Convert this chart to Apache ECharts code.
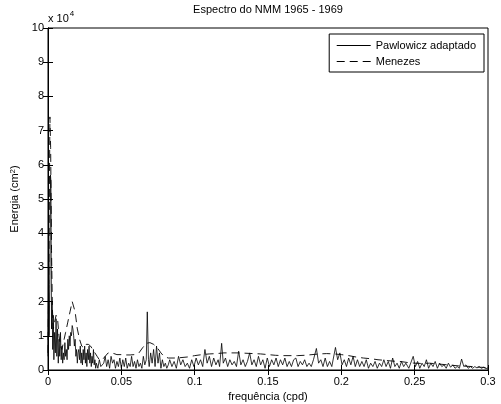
<!DOCTYPE html>
<html>
<head>
<meta charset="utf-8">
<script src="https://cdn.jsdelivr.net/npm/echarts@6/dist/echarts.min.js"></script>
<style>html,body{margin:0;padding:0;background:#fff}#c{width:501px;height:404px}</style>
</head>
<body>
<div id="c"></div>
<script>
// Values in units of 10^4 cm^2
const xTicks = [0, 0.05, 0.1, 0.15, 0.2, 0.25, 0.3];
const yTicks = [0, 1, 2, 3, 4, 5, 6, 7, 8, 9, 10];

const pawFreq = [
0.0000,0.0004,0.0008,0.0012,0.0017,0.0020,0.0024,0.0028,0.0032,0.0036,0.0040,0.0045,0.0050,0.0055,0.0060,0.0065,0.0070,0.0075,0.0080,0.0085,
0.0090,0.0095,0.0100,0.0105,0.0110,0.0115,0.0120,0.0125,0.0130,0.0135,0.0140,0.0145,0.0150,0.0155,0.0160,0.0165,0.0170,0.0175,0.0180,0.0185,
0.0190,0.0195,0.0200,0.0205,0.0210,0.0215,0.0220,0.0225,0.0230,0.0235,0.0240,0.0245,0.0250,0.0255,0.0260,0.0265,0.0270,0.0275,0.0280,0.0285,
0.0290,0.0295,0.0300,0.0305,0.0310,0.0315,0.0320,0.0325,0.0330,0.0340,0.0350,0.0360,0.0370,0.0380,0.0390,0.0400,0.0410,0.0420,0.0430,0.0440,
0.0450,0.0460,0.0470,0.0480,0.0490,0.0500,0.0510,0.0520,0.0530,0.0540,0.0550,0.0560,0.0570,0.0580,0.0590,0.0600,0.0610,0.0620,0.0630,0.0640,
0.0650,0.0660,0.0670,0.0677,0.0685,0.0690,0.0700,0.0710,0.0720,0.0730,0.0740,0.0750,0.0760,0.0770,0.0780,0.0790,0.0800,0.0810,0.0820,0.0830,
0.0845,0.0860,0.0875,0.0890,0.0905,0.0920,0.0935,0.0950,0.0965,0.0980,0.0995,0.1010,0.1025,0.1040,0.1055,0.1070,0.1085,0.1100,0.1115,0.1130,
0.1145,0.1160,0.1170,0.1184,0.1195,0.1210,0.1225,0.1240,0.1255,0.1270,0.1285,0.1300,0.1315,0.1330,0.1345,0.1360,0.1375,0.1390,0.1405,0.1420,
0.1435,0.1450,0.1465,0.1480,0.1495,0.1510,0.1525,0.1540,0.1555,0.1570,0.1585,0.1600,0.1615,0.1630,0.1645,0.1660,0.1675,0.1690,0.1705,0.1720,
0.1735,0.1750,0.1765,0.1780,0.1795,0.1810,0.1830,0.1845,0.1860,0.1875,0.1890,0.1905,0.1920,0.1935,0.1960,0.1975,0.1990,0.2005,0.2020,0.2035,
0.2050,0.2065,0.2080,0.2095,0.2110,0.2125,0.2140,0.2155,0.2170,0.2185,0.2200,0.2215,0.2230,0.2245,0.2260,0.2275,0.2290,0.2305,0.2320,0.2335,
0.2350,0.2365,0.2380,0.2395,0.2410,0.2425,0.2440,0.2460,0.2490,0.2505,0.2520,0.2535,0.2550,0.2565,0.2580,0.2595,0.2610,0.2625,0.2640,0.2655,
0.2670,0.2685,0.2700,0.2715,0.2730,0.2745,0.2760,0.2775,0.2790,0.2805,0.2820,0.2835,0.2850,0.2865,0.2880,0.2895,0.2910,0.2925,0.2940,0.2955,
0.2970,0.2985,0.3000
];
const pawEnergy = [
0.4,3.2,1.0,2.5,5.7,5.5,1.2,2.0,0.6,1.6,0.3,1.1,0.5,1.5,0.4,1.2,0.2,0.9,0.4,1.1,
0.3,0.7,0.2,0.5,0.3,0.8,0.4,0.6,0.3,0.9,0.6,1.0,0.7,1.1,1.0,1.3,1.2,1.0,0.7,0.9,
0.4,0.6,0.2,0.5,0.6,0.3,0.7,0.2,0.5,0.15,0.6,0.3,0.7,0.2,0.5,0.1,0.6,0.3,0.7,0.2,
0.5,0.1,0.4,0.2,0.6,0.15,0.3,0.05,0.2,0.05,0.3,0.1,0.05,0.2,0.4,0.1,0.3,0.05,0.4,0.2,
0.3,0.05,0.25,0.1,0.35,0.05,0.3,0.1,0.35,0.05,0.2,0.1,0.4,0.1,0.25,0.05,0.3,0.1,0.2,0.05,
0.4,0.15,0.3,1.7,0.3,0.1,0.5,0.2,0.6,0.1,0.7,0.2,0.5,0.05,0.3,0.1,0.2,0.05,0.15,0.3,
0.1,0.25,0.05,0.4,0.15,0.3,0.1,0.2,0.05,0.3,0.1,0.35,0.15,0.3,0.1,0.6,0.2,0.4,0.1,0.35,
0.15,0.3,0.1,0.78,0.2,0.35,0.1,0.3,0.15,0.25,0.1,0.55,0.15,0.3,0.1,0.25,0.5,0.15,0.3,0.1,
0.4,0.15,0.3,0.05,0.35,0.1,0.3,0.15,0.35,0.1,0.3,0.15,0.35,0.1,0.25,0.1,0.3,0.35,0.1,0.25,
0.15,0.3,0.1,0.2,0.1,0.3,0.63,0.2,0.3,0.1,0.35,0.1,0.25,0.1,0.66,0.3,0.5,0.15,0.3,0.1,
0.35,0.15,0.4,0.1,0.3,0.1,0.25,0.1,0.3,0.05,0.2,0.1,0.25,0.05,0.2,0.1,0.3,0.1,0.25,0.05,
0.35,0.1,0.2,0.05,0.25,0.1,0.2,0.05,0.4,0.1,0.25,0.05,0.2,0.1,0.3,0.05,0.2,0.1,0.25,0.05,
0.2,0.1,0.15,0.05,0.2,0.08,0.15,0.05,0.1,0.05,0.32,0.1,0.15,0.05,0.1,0.05,0.1,0.06,0.1,0.05,
0.08,0.04,0.06
];

const menFreq = [
0.0000,0.0007,0.0013,0.0018,0.0024,0.0030,0.0036,0.0045,0.0055,0.0065,0.0075,0.0085,0.0095,0.0105,0.0120,0.0135,0.0150,0.0165,0.0175,0.0185,
0.0200,0.0215,0.0230,0.0245,0.0260,0.0275,0.0290,0.0305,0.0320,0.0335,0.0350,0.0370,0.0390,0.0410,0.0430,0.0450,0.0470,0.0500,0.0530,0.0560,
0.0590,0.0620,0.0645,0.0670,0.0695,0.0720,0.0745,0.0770,0.0790,0.0820,0.0860,0.0900,0.0950,0.1000,0.1050,0.1100,0.1150,0.1200,0.1250,0.1300,
0.1350,0.1400,0.1450,0.1500,0.1550,0.1600,0.1650,0.1700,0.1750,0.1800,0.1850,0.1900,0.1950,0.2000,0.2050,0.2100,0.2150,0.2200,0.2250,0.2300,
0.2350,0.2400,0.2450,0.2500,0.2550,0.2600,0.2650,0.2700,0.2750,0.2800,0.2850,0.2900,0.2950,0.3000
];
const menEnergy = [
0.5,3.5,7.4,6.5,3.5,1.8,1.2,1.4,1.6,1.5,1.0,0.7,0.6,0.8,1.1,1.4,1.7,2.0,2.0,1.7,
1.2,0.9,0.7,0.65,0.75,0.75,0.7,0.6,0.5,0.4,0.3,0.3,0.4,0.5,0.5,0.48,0.45,0.45,0.44,0.44,
0.45,0.5,0.65,0.78,0.8,0.75,0.65,0.5,0.4,0.35,0.35,0.36,0.38,0.42,0.45,0.47,0.48,0.5,0.5,0.5,
0.49,0.48,0.47,0.45,0.43,0.42,0.42,0.42,0.43,0.45,0.47,0.48,0.47,0.45,0.42,0.38,0.35,0.33,0.3,0.28,
0.26,0.25,0.22,0.2,0.19,0.2,0.18,0.16,0.14,0.12,0.11,0.1,0.08,0.07
];

const FONT = 'Liberation Sans, Arial, sans-serif';
const pawData = pawFreq.map((f, i) => [f, pawEnergy[i]]);
const menData = menFreq.map((f, i) => [f, menEnergy[i]]);

const chart = echarts.init(document.getElementById('c'), null, {renderer: 'canvas'});
const axisCommon = {
  axisLine: {show: true, lineStyle: {color: '#000', width: 1}},
  axisTick: {show: true, inside: true, length: 5, lineStyle: {color: '#000'}},
  splitLine: {show: false}
};
chart.setOption({
  animation: false,
  backgroundColor: '#fff',
  title: {
    text: 'Espectro do NMM 1965 - 1969',
    left: 268, top: 4, padding: 0, textAlign: 'center',
    textStyle: {fontFamily: FONT, fontSize: 11, fontWeight: 'normal', color: '#000'}
  },
  grid: {left: 48, right: 13, top: 28, bottom: 34, show: true, borderColor: '#000', borderWidth: 1,
         backgroundColor: '#fff', containLabel: false, outerBoundsMode: 'none'},
  legend: {
    orient: 'vertical', right: 17, top: 34,
    backgroundColor: '#fff', borderColor: '#000', borderWidth: 1,
    padding: [6, 8, 5, 7], itemGap: 5, itemWidth: 34, itemHeight: 10,
    itemStyle: {opacity: 0},
    lineStyle: {width: 1},
    textStyle: {fontFamily: FONT, fontSize: 11, color: '#000'},
    data: ['Pawlowicz adaptado', 'Menezes']
  },
  graphic: [{
    type: 'text', left: 48, top: 10,
    style: {
      text: '{a|x 10}{s|4}',
      rich: {
        a: {fontFamily: FONT, fontSize: 11, fill: '#000', verticalAlign: 'bottom'},
        s: {fontFamily: FONT, fontSize: 8, fill: '#000', verticalAlign: 'top', padding: [0, 0, 6, 1]}
      }
    }
  }],
  xAxis: [
    Object.assign({}, axisCommon, {
      type: 'value', min: 0, max: 0.3, interval: 0.05, position: 'bottom',
      name: 'frequência (cpd)', nameLocation: 'middle', nameGap: 21,
      nameTextStyle: {fontFamily: FONT, fontSize: 11, color: '#000'},
      axisLabel: {fontFamily: FONT, fontSize: 11, color: '#000', margin: 6,
        formatter: v => xTicks.includes(Math.round(v*100)/100) ? String(Math.round(v*100)/100) : ''}
    }),
    Object.assign({}, axisCommon, {
      type: 'value', min: 0, max: 0.3, interval: 0.05, position: 'top', axisLabel: {show: false}
    })
  ],
  yAxis: [
    Object.assign({}, axisCommon, {
      type: 'value', min: 0, max: 10, interval: 1, position: 'left',
      name: '{a|Energia (cm}{s|2}{a|)}', nameLocation: 'middle', nameGap: 20,
      nameTextStyle: {fontFamily: FONT, fontSize: 11, color: '#000',
        rich: {a: {fontFamily: FONT, fontSize: 11, color: '#000'},
               s: {fontFamily: FONT, fontSize: 8, color: '#000', verticalAlign: 'top', padding: [0, 0, 6, 0]}}},
      axisLabel: {fontFamily: FONT, fontSize: 11, color: '#000', margin: 4,
        formatter: v => yTicks.includes(v) ? String(v) : ''}
    }),
    Object.assign({}, axisCommon, {
      type: 'value', min: 0, max: 10, interval: 1, position: 'right', axisLabel: {show: false}
    })
  ],
  series: [
    {name: 'Pawlowicz adaptado', type: 'line', data: pawData, symbol: 'none', showSymbol: false,
     lineStyle: {color: '#000', width: 0.8}, itemStyle: {color: '#000'}, z: 3},
    {name: 'Menezes', type: 'line', data: menData, symbol: 'none', showSymbol: false,
     lineStyle: {color: '#000', width: 0.9, type: [8, 5]}, itemStyle: {color: '#000'}, z: 2}
  ]
});
</script>
</body>
</html>
